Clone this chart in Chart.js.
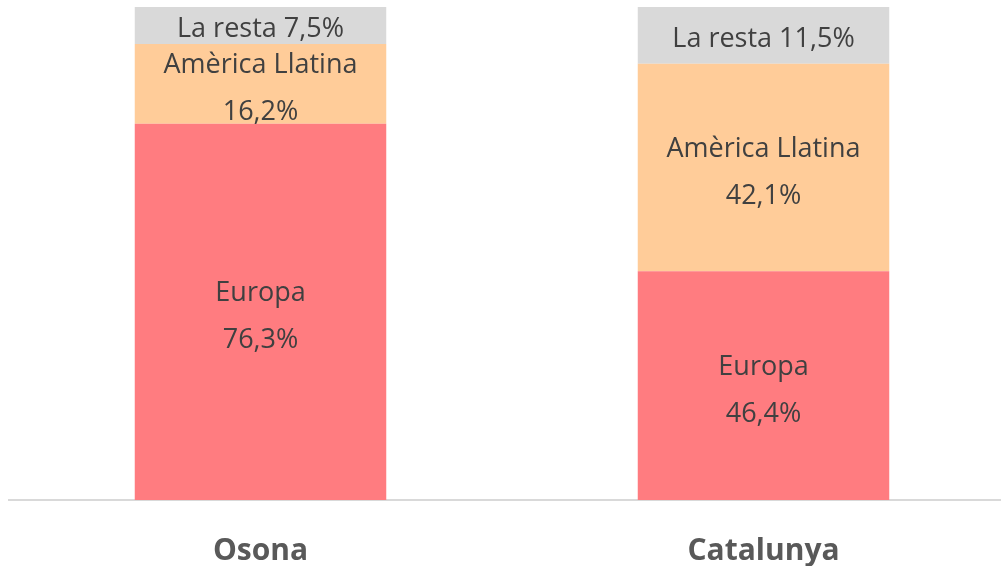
<!DOCTYPE html>
<html>
<head>
<meta charset="utf-8">
<script src="https://cdn.jsdelivr.net/npm/chart.js@4/dist/chart.umd.min.js"></script>
<style>
  html, body { margin: 0; padding: 0; background: #fff; overflow: hidden; }
  #wrap { width: 1015px; height: 566px; }
</style>
</head>
<body>
<div id="wrap"><canvas id="chart"></canvas></div>
<script>
const CATEGORIES = ['Osona', 'Catalunya'];
const EUROPA = [76.3, 46.4];
const AMERICA_LLATINA = [16.2, 42.1];
const LA_RESTA = [7.5, 11.5];

const SERIES_NAMES = ['Europa', 'Amèrica Llatina', 'La resta'];
const COLORS = ['#FF7C80', '#FFCC99', '#D9D9D9'];

function fmt(v) {
  return v.toFixed(1).replace('.', ',') + '%';
}

// draws the text inside each segment
const segmentLabels = {
  id: 'segmentLabels',
  afterDatasetsDraw(chart) {
    const ctx = chart.ctx;
    ctx.save();
    ctx.fillStyle = '#404040';
    ctx.font = '27px "Open Sans"';
    ctx.textAlign = 'center';
    ctx.textBaseline = 'middle';
    chart.data.datasets.forEach((ds, di) => {
      const meta = chart.getDatasetMeta(di);
      meta.data.forEach((bar, i) => {
        const mid = (bar.y + bar.base) / 2 + 5;
        const name = SERIES_NAMES[di];
        const val = fmt(ds.data[i]);
        if (di === 2) {
          ctx.fillText(name + ' ' + val, bar.x, mid - 1);
        } else {
          ctx.fillText(name, bar.x, mid - 23.5);
          ctx.fillText(val, bar.x, mid + 23.5);
        }
      });
    });
    ctx.restore();
  }
};

const ctx = document.getElementById('chart');
new Chart(ctx, {
  type: 'bar',
  data: {
    labels: CATEGORIES,
    datasets: [
      { label: SERIES_NAMES[0], data: EUROPA, backgroundColor: COLORS[0] },
      { label: SERIES_NAMES[1], data: AMERICA_LLATINA, backgroundColor: COLORS[1] },
      { label: SERIES_NAMES[2], data: LA_RESTA, backgroundColor: COLORS[2] }
    ]
  },
  options: {
    responsive: true,
    maintainAspectRatio: false,
    animation: false,
    layout: {
      padding: { left: 9, top: 7, right: 0, bottom: 0 }
    },
    datasets: {
      bar: {
        categoryPercentage: 1,
        barPercentage: 0.5,
        borderWidth: 0
      }
    },
    plugins: {
      legend: { display: false },
      tooltip: { enabled: false }
    },
    scales: {
      x: {
        stacked: true,
        grid: { display: false, drawTicks: false },
        border: { display: true, color: '#D9D9D9', width: 2 },
        afterFit(scale) { scale.height = 66; },
        ticks: {
          color: '#595959',
          padding: 33,
          font: { family: '"Open Sans"', size: 30, weight: 'bold' }
        }
      },
      y: {
        stacked: true,
        display: false,
        min: 0,
        max: 100
      }
    }
  },
  plugins: [segmentLabels]
});
</script>
</body>
</html>
